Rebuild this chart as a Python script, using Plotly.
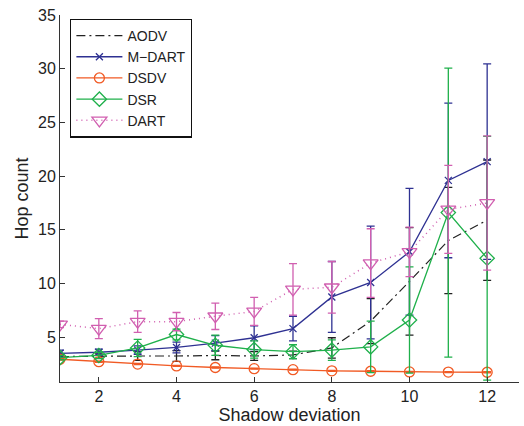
import plotly.graph_objects as go

x = [1, 2, 3, 4, 5, 6, 7, 8, 9, 10, 11, 12]

aodv = [3.2, 3.25, 3.25, 3.25, 3.3, 3.25, 3.35, 4.0, 6.5, 10.2, 14.0, 15.9]
aodv_err = [0.2, 0.2, 0.4, 0.5, 0.4, 0.4, 0.35, 0.95, 2.1, 5.0, 4.95, 5.6]

mdart = [3.5, 3.6, 3.8, 4.05, 4.45, 4.95, 5.8, 8.75, 10.1, 12.95, 19.6, 21.35]
mdart_err = [0.3, 0.3, 0.4, 0.5, 0.7, 1.1, 1.15, 3.3, 5.25, 5.9, 7.2, 9.1]

dsdv = [2.95, 2.72, 2.5, 2.33, 2.18, 2.07, 1.98, 1.87, 1.83, 1.77, 1.75, 1.74]
dsdv_err = [0.08, 0.06, 0.06, 0.05, 0.05, 0.05, 0.05, 0.05, 0.05, 0.05, 0.05, 0.05]

dsr = [3.1, 3.3, 4.0, 5.25, 4.25, 3.85, 3.65, 3.8, 4.1, 6.6, 16.6, 12.35]
dsr_err = [0.2, 0.3, 0.8, 0.5, 0.95, 0.8, 0.65, 0.95, 2.4, 4.95, 13.45, 11.35]

dart = [6.2, 5.8, 6.45, 6.45, 6.95, 7.4, 9.45, 9.65, 11.9, 12.95, 16.9, 17.5]
dart_err = [0.3, 0.93, 1.0, 0.85, 1.23, 1.3, 2.4, 2.4, 3.2, 2.3, 4.1, 6.25]

x_ticks = [2, 4, 6, 8, 10, 12]
y_ticks = [5, 10, 15, 20, 25, 30, 35]

C_AODV = "#222222"
C_MDART = "#2e3192"
C_DSDV = "#f15a24"
C_DSR = "#1fb04b"
C_DART = "#d15fb0"

fig = go.Figure()

def add(name, y, err, color, dash, symbol, size, lw, mode="lines+markers"):
    fig.add_trace(go.Scatter(
        x=x, y=y, name=name, mode=mode,
        line=dict(color=color, width=lw, dash=dash),
        marker=dict(symbol=symbol, size=size, color=color,
                    line=dict(color=color, width=1.3)),
        error_y=dict(type="data", array=err, visible=True, color=color,
                     thickness=1.3, width=4),
    ))

add("AODV", aodv, aodv_err, C_AODV, "9px,4px,2px,4px", "line-ew", 1, 1.2, mode="lines")
add("M\u2212DART", mdart, mdart_err, C_MDART, "solid", "x-thin-open", 7, 1.3)
add("DSDV", dsdv, dsdv_err, C_DSDV, "solid", "circle-open", 10, 1.3)
add("DSR", dsr, dsr_err, C_DSR, "solid", "diamond-open", 11, 1.3)
add("DART", dart, dart_err, C_DART, "1px,4px", "triangle-down-open", 13, 1.5)

fig.update_layout(
    width=524, height=426,
    margin=dict(l=60, r=5, t=15, b=44),
    paper_bgcolor="white", plot_bgcolor="white",
    font=dict(family="Liberation Sans, Arial, sans-serif", size=15, color="#222222"),
    showlegend=True,
    legend=dict(
        x=0.022, y=0.99, xanchor="left", yanchor="top",
        bgcolor="white", bordercolor="#111111", borderwidth=1.3,
        font=dict(size=14, color="#222222"),
        itemwidth=46, tracegroupgap=0,
    ),
    xaxis=dict(
        range=[1, 12.82], tickvals=x_ticks, ticktext=[str(t) for t in x_ticks],
        ticks="inside", ticklen=5, tickcolor="#333333",
        showline=True, linecolor="#333333", linewidth=1,
        showgrid=False, zeroline=False, mirror=False,
        title=dict(text="Shadow deviation", font=dict(size=18), standoff=2),
        tickfont=dict(size=16),
    ),
    yaxis=dict(
        range=[0.83, 35], tickvals=y_ticks, ticktext=[str(t) for t in y_ticks],
        ticks="inside", ticklen=5, tickcolor="#333333",
        showline=True, linecolor="#333333", linewidth=1,
        showgrid=False, zeroline=False, mirror=False,
        title=dict(text="Hop count", font=dict(size=18), standoff=4),
        tickfont=dict(size=16),
    ),
)

fig.write_html("out.html")
